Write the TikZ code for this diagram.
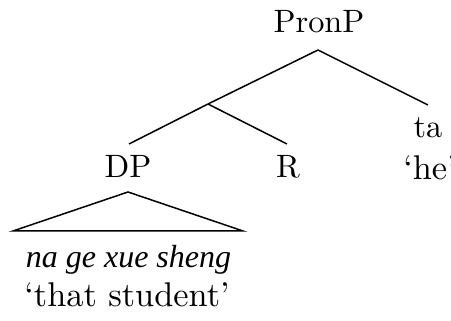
\documentclass[tikz,border=0pt]{standalone}
\usepackage{fontspec}
\newfontfamily\itfont{Liberation Serif Italic}
\begin{document}
\begin{tikzpicture}[x=0.3pt,y=-0.3pt,
  lbl/.style={anchor=base,inner sep=0pt,font=\fontsize{9.7}{11}\selectfont},
  gl/.style={anchor=base,inner sep=0pt,font=\fontsize{10.3}{12}\selectfont},
  edge/.style={line width=0.45pt}]
\useasboundingbox (0,0) rectangle (451,321);
\node[lbl] (pronp) at (319,33) {PronP};
\coordinate (top) at (318,50);
\coordinate (mid) at (208,104);
\coordinate (dptop) at (129,144);
\coordinate (rtop) at (287,144);
\coordinate (tatop) at (428,105);
\node[lbl] (dp) at (128,178) {DP};
\node[lbl] (r) at (288,178) {R};
\node[lbl] (ta) at (428,138) {ta};
\node[gl] (he) at (430,180) {`he'};
\coordinate (apex) at (128,192);
\coordinate (bl) at (13,231);
\coordinate (br) at (243,231);
\node[anchor=base,inner sep=0pt,font=\fontsize{9.6}{12}\itfont] (phrase) at (128.5,268) {na ge xue sheng};
\node[gl] (gloss) at (127,307) {`that student'};
\draw[edge] (top) -- (tatop);
\draw[edge] (top) -- (mid);
\draw[edge] (mid) -- (dptop);
\draw[edge] (mid) -- (rtop);
\draw[edge] (bl) -- (apex) -- (br) -- cycle;
\end{tikzpicture}
\end{document}
